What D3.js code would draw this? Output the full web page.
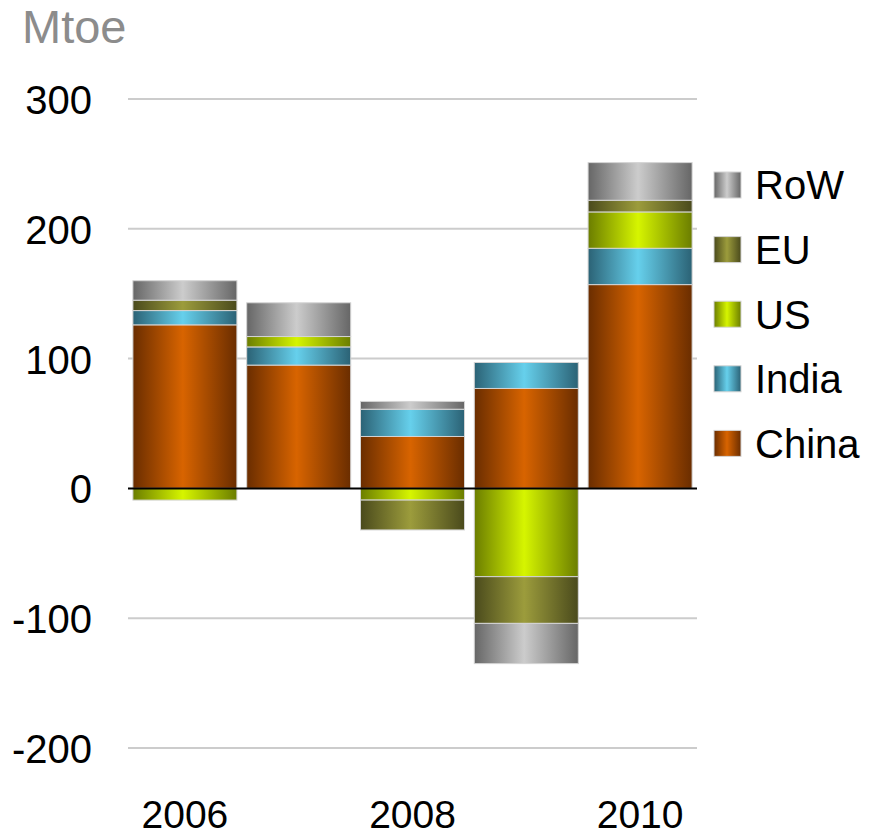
<!DOCTYPE html>
<html>
<head>
<meta charset="utf-8">
<script src="https://cdn.jsdelivr.net/npm/d3@7"></script>
<style>
  html, body { margin: 0; padding: 0; background: #fff; }
  svg { display: block; font-family: "Liberation Sans", Arial, sans-serif; }
</style>
</head>
<body>
<svg id="chart" width="870" height="836"></svg>
<script>
// ---- data ----
const years   = ["2006", "2007", "2008", "2009", "2010"];
const xLabels = ["2006", "", "2008", "", "2010"];
const seriesNames = ["China", "India", "US", "EU", "RoW"];
const china = [126, 95, 40, 77, 157];
const india = [11, 14, 21, 20, 28];
const us    = [-9, 8, -9, -68, 28];
const eu    = [8, 0, -23, -36, 9];
const row   = [15, 26, 6, -31, 29];
const yTicks = [-200, -100, 0, 100, 200, 300];
const unitLabel = "Mtoe";

// ---- styles ----
const gradColors = {
  China: ["#6a2d00", "#d86400"],
  India: ["#2b6275", "#66d0ec"],
  US:    ["#6b7d00", "#d6f500"],
  EU:    ["#4a4a1c", "#9c9c3c"],
  RoW:   ["#666666", "#cccccc"]
};

const table = years.map((y, i) => ({
  year: y, China: china[i], India: india[i], US: us[i], EU: eu[i], RoW: row[i]
}));

const svg = d3.select("#chart");
const defs = svg.append("defs");
seriesNames.forEach(k => {
  const g = defs.append("linearGradient").attr("id", "g-" + k)
    .attr("x1", 0).attr("x2", 1).attr("y1", 0).attr("y2", 0);
  g.append("stop").attr("offset", "0%").attr("stop-color", gradColors[k][0]);
  g.append("stop").attr("offset", "48%").attr("stop-color", gradColors[k][1]);
  g.append("stop").attr("offset", "100%").attr("stop-color", gradColors[k][0]);
});

const x = d3.scaleBand().domain(years).range([128, 697])
  .paddingInner(0.086).paddingOuter(0.043);
const y = d3.scaleLinear().domain([-200, 300]).range([748, 99]);

// gridlines
svg.append("g").selectAll("line").data(yTicks.filter(t => t !== 0)).join("line")
  .attr("x1", 128).attr("x2", 697)
  .attr("y1", d => y(d)).attr("y2", d => y(d))
  .attr("stroke", "#cccccc").attr("stroke-width", 2);

// y tick labels
const yAxis = d3.axisLeft(y).tickValues(yTicks).tickSize(0).tickPadding(0)
  .tickFormat(d => String(d));
const ya = svg.append("g").attr("transform", "translate(92,0)").call(yAxis);
ya.select(".domain").remove();
ya.selectAll("text").attr("font-size", 40).attr("fill", "#000")
  .attr("font-family", "'Liberation Sans', Arial, sans-serif").attr("dy", "0.36em");

// bars
const stack = d3.stack().keys(seriesNames).offset(d3.stackOffsetDiverging);
const layers = stack(table);
svg.append("g").selectAll("g").data(layers).join("g")
  .attr("fill", d => "url(#g-" + d.key + ")")
  .selectAll("rect").data(d => d.filter(p => p[1] - p[0] !== 0)).join("rect")
  .attr("x", d => x(d.data.year))
  .attr("width", x.bandwidth())
  .attr("y", d => y(d[1]))
  .attr("height", d => y(d[0]) - y(d[1]))
  .attr("stroke", "#d4d4d4").attr("stroke-width", 1);

// zero line
svg.append("line").attr("x1", 128).attr("x2", 697)
  .attr("y1", y(0)).attr("y2", y(0))
  .attr("stroke", "#000").attr("stroke-width", 2);

// x labels
const xAxis = d3.axisBottom(x).tickSize(0).tickPadding(0)
  .tickFormat((d, i) => xLabels[i]);
const xa = svg.append("g").attr("transform", "translate(0,828)").call(xAxis);
xa.select(".domain").remove();
xa.selectAll("text").attr("font-size", 39).attr("fill", "#000")
  .attr("font-family", "'Liberation Sans', Arial, sans-serif").attr("dy", 0);

// unit label
svg.append("text").attr("x", 22).attr("y", 43).attr("font-size", 47)
  .attr("fill", "#8c8c8c").text(unitLabel);

// legend
const legendOrder = seriesNames.slice().reverse();
const lg = svg.append("g").selectAll("g").data(legendOrder).join("g")
  .attr("transform", (d, i) => `translate(714,${185 + i * 64.6})`);
lg.append("rect").attr("x", 0).attr("y", -13).attr("width", 27).attr("height", 26)
  .attr("fill", d => "url(#g-" + d + ")").attr("stroke", "#d4d4d4").attr("stroke-width", 1);
lg.append("text").attr("x", 41).attr("y", 0).attr("dy", "0.36em")
  .attr("font-size", 40).attr("fill", "#000").text(d => d);
</script>
</body>
</html>
